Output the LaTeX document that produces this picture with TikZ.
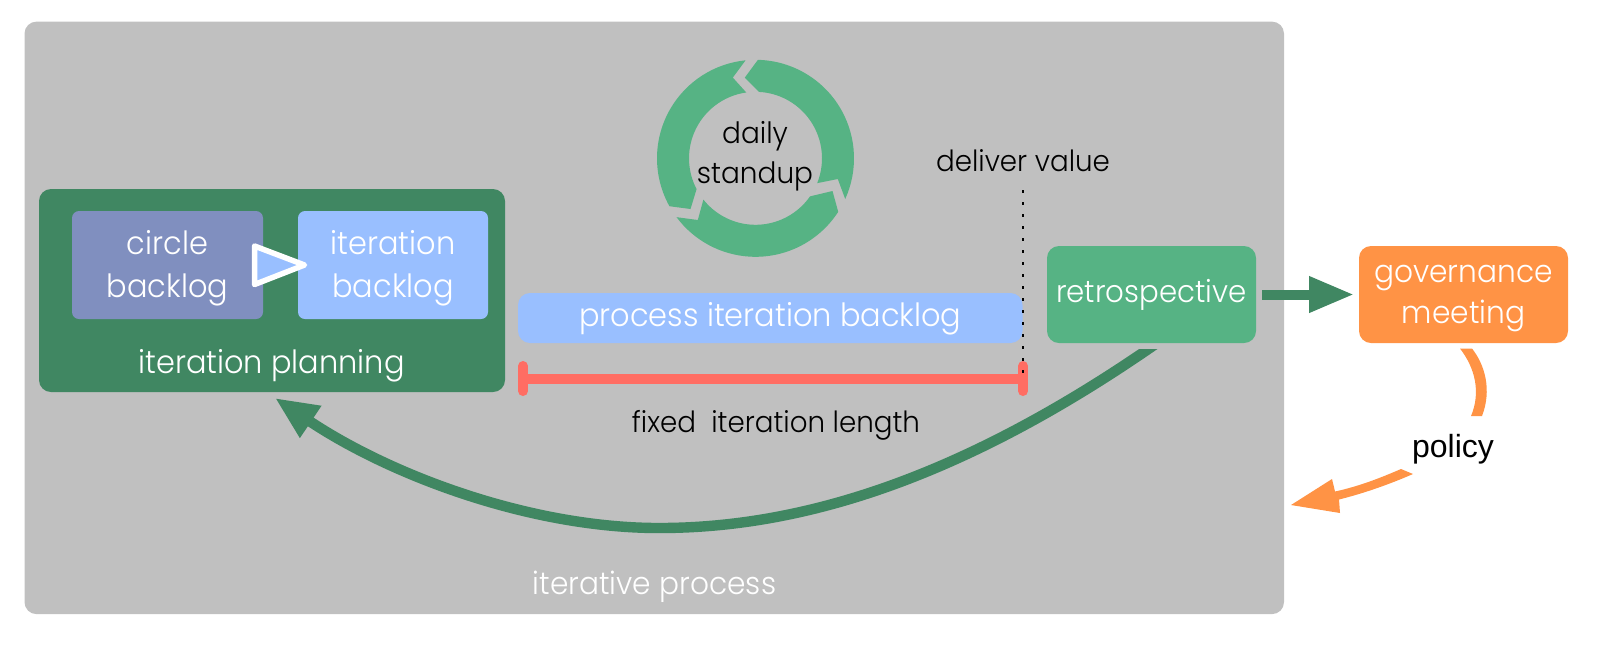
\documentclass[tikz,border=0pt]{standalone}
\usepackage{fontspec}
\setmainfont{Poppins}[UprightFont=* Light,FakeStretch=0.95]
\newfontfamily\policyfont{Liberation Sans}
\usetikzlibrary{arrows.meta,calc}
\definecolor{panelgrey}{HTML}{C0C0C0}
\definecolor{darkgreen}{HTML}{408762}
\definecolor{midgreen}{HTML}{56B384}
\definecolor{skyblue}{HTML}{99BFFF}
\definecolor{slateblue}{HTML}{808FBF}
\definecolor{orangefill}{HTML}{FF9345}
\definecolor{redbar}{HTML}{FF6D63}
\newcommand{\strutup}[1]{\rule{0pt}{#1}}
\newcommand{\strutdown}{\rule[-4pt]{0pt}{4pt}}
\tikzset{
  x=0.5pt,y=-0.5pt,
  box/.style={rounded corners=#1,inner sep=0pt,outer sep=0pt,text=white,align=center,
     font=\fontsize{16}{21.5}\selectfont},
  box/.default=6pt,
  whitetext/.style={text=white,inner sep=0pt,anchor=base,font=\fontsize{16}{21.5}\selectfont},
  blacktext/.style={text=black,inner sep=0pt,anchor=base,font=\fontsize{14.6}{20}\selectfont},
  barline/.style={draw=redbar,line width=5pt},
  barcap/.style={draw=redbar,line width=5pt,line cap=round},
  greenflow/.style={draw=darkgreen,line width=5.2pt},
}
\begin{document}
\begin{tikzpicture}
\useasboundingbox (0,0) rectangle (1598,661);
% panel
\node[box,fill=panelgrey,minimum width=629.75pt,minimum height=296.25pt] (process) at (654.25,317.85) {};
\node[whitetext,font=\fontsize{15.6}{20}\selectfont] (processlabel) at (654.5,594) {iterative process};
% planning
\node[box,fill=darkgreen,minimum width=233pt,minimum height=101.5pt] (plan) at (272,290.5) {};
\node[box=3.5pt,fill=slateblue,minimum width=95.5pt,minimum height=54pt] (circle) at (167.5,265) {\strutup{15.5pt}circle\\backlog\strutdown};
\node[box=3.5pt,fill=skyblue,minimum width=95pt,minimum height=54pt] (iter) at (393,265) {\strutup{15.5pt}iteration\\backlog\strutdown};
\node[whitetext] (planlabel) at (271.5,373) {iteration planning};
\coordinate (triA) at (254.5,246);
\coordinate (triB) at (254.5,284.5);
\coordinate (triC) at (304.5,265);
\draw[white,fill=skyblue,line width=2.75pt,line join=round] (triA) -- (triC) -- (triB) -- cycle;
% ring
\begin{scope}[shift={(755.5,158.3)},fill=midgreen]
\fill[midgreen] (-88.6:98.5) arc[start angle=-88.6,end angle=24.4,radius=98.5] -- (82.3,20.7) -- (21.9:66.5) arc[start angle=21.9,end angle=-87,radius=66.5] -- (-10.7,-80.7) -- cycle;
\fill[midgreen] (32.9:98.5) arc[start angle=32.9,end angle=143.3,radius=98.5] -- (-57.7,61.7) -- (141.6:66.5) arc[start angle=141.6,end angle=34.9,radius=66.5] -- (77,32.7) -- cycle;
\fill[midgreen] (150.9:98.5) arc[start angle=150.9,end angle=264.2,radius=98.5] -- (-22.7,-80.7) -- (262:66.5) arc[start angle=262,end angle=152.4,radius=66.5] -- (-65,50.7) -- cycle;
\end{scope}
\node[blacktext,align=center,font=\fontsize{14.7}{20}\selectfont] (standup) at (755,183) {daily\\standup};
% backlog
\node[box,fill=skyblue,minimum width=252.25pt,minimum height=25pt,text height=12pt,text depth=4pt] (pib) at (770.25,318) {process iteration backlog};
% bar
\coordinate (barL) at (523,379);
\coordinate (barR) at (1023,379);
\coordinate (barLt) at (523,366);
\coordinate (barLb) at (523,391);
\coordinate (barRt) at (1023,366);
\coordinate (barRb) at (1023,391);
\draw[barline] (barL) -- (barR);
\draw[barcap] (barLt) -- (barLb);
\draw[barcap] (barRt) -- (barRb);
\node[blacktext] (fixedlabel) at (776,432) {fixed\ \ iteration length};
\node[blacktext] (deliver) at (1023,171) {deliver value};
\coordinate (dotfoot) at (1023,380);
\coordinate (dottop) at (1023,190);
\draw[black,line width=1pt,dash pattern=on 1.25pt off 4.75pt] (dottop) -- (dotfoot);
% retro, governance
\node[box,fill=midgreen,minimum width=104.5pt,minimum height=48.5pt,font=\fontsize{15.4}{20}\selectfont,text height=12pt,text depth=4pt] (retro) at (1151.5,294.5) {retrospective};
\node[box,fill=orangefill,minimum width=104.5pt,minimum height=48.5pt,font=\fontsize{15.6}{20.5}\selectfont] (gov) at (1463.5,294.5) {\strutup{13pt}governance\\meeting\strutdown};
\draw[greenflow,line width=5pt,shorten <=3pt,shorten >=2.5pt,-{Triangle[length=22.5pt,width=17pt]}] (retro) -- (gov);
% loop
\coordinate (loopstart) at (1157,343);
\coordinate (loopmid) at (659,528);
\coordinate (looptip) at (275,398);
\begin{scope}
\clip (0,349) rectangle (1598,661);
\draw[greenflow,-{Triangle[length=21.5pt,width=17.8pt]}] (loopstart) .. controls (960,480) and (800,528) .. (loopmid) .. controls (530,528) and (390,475) .. (looptip);
\end{scope}
% policy
\fill[orangefill] (1460,348.5) -- (1472,348.5) .. controls (1485,365) and (1492,390) .. (1482,416) -- (1471,416) .. controls (1481,392) and (1475,368) .. (1460,348.5) -- cycle;
\node[blacktext,font=\policyfont\fontsize{16}{18}\selectfont] (policy) at (1453,457) {policy};
\fill[orangefill] (1401,469) -- (1413,474) .. controls (1390,484) and (1365,493) .. (1339,499.5) -- (1340,513) -- (1291,505) -- (1332,479) -- (1335,491.5) .. controls (1360,486) and (1380,478) .. (1401,469) -- cycle;
\end{tikzpicture}
\end{document}
